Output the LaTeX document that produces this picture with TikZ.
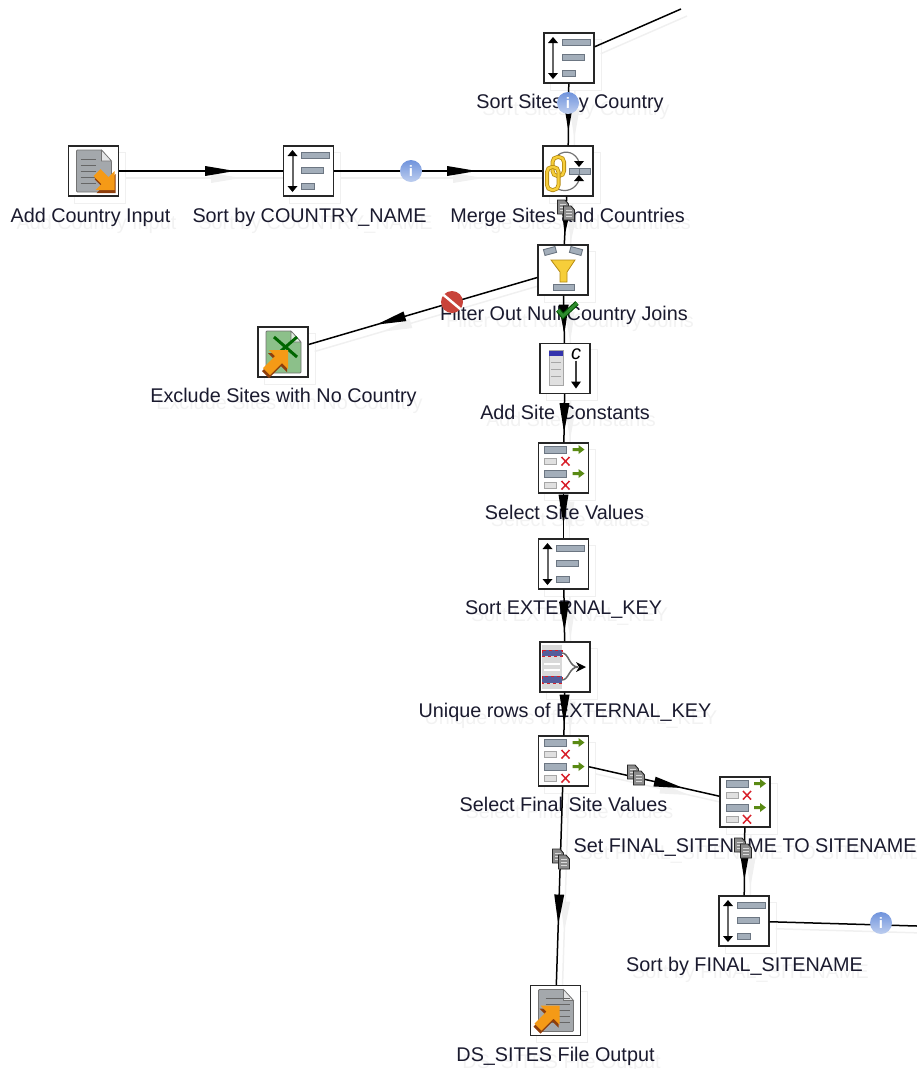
\documentclass[tikz,border=0pt]{standalone}
\usepackage{fontspec}
\setmainfont{Liberation Sans}
\usetikzlibrary{backgrounds,decorations.markings}
\definecolor{labelink}{HTML}{1A1A2E}
\definecolor{barfill}{HTML}{A3AEBA}
\definecolor{bardraw}{HTML}{6C7682}
\definecolor{infoblue}{HTML}{6F93DC}
\definecolor{stopred}{HTML}{C8433A}
\definecolor{okgreen}{HTML}{2E8B2E}
\definecolor{movegreen}{HTML}{5A8A14}
\definecolor{delred}{HTML}{D8202A}
\definecolor{goldlight}{HTML}{F6CE3A}
\definecolor{golddark}{HTML}{B58A12}
\definecolor{pagegrey}{HTML}{A4A8AC}
\definecolor{xlsgreen}{HTML}{8CC08A}
\definecolor{arroworange}{HTML}{F59A16}
\definecolor{arrowbrown}{HTML}{8E3E0C}
\colorlet{ghost}{black!6}
\tikzset{
  stepbox/.style={draw=black!85, fill=white, line width=1.3pt, minimum size=50pt, inner sep=0pt},
  steplabel/.style={text=labelink, inner sep=0pt, text height=13pt, text depth=0pt, font=\fontsize{19.8}{22}\selectfont},
  ghostlabel/.style={steplabel, text=black!5},
  ghostbox/.style={draw=ghost, line width=1pt},
  flowlink/.style={line width=1.5pt},
  flowhead/.style={postaction={decorate, decoration={markings, mark=at position #1pt with {
    \fill (-26,-5) -- (-14,-3) -- (0,-0.6) -- (0,0.6) -- (-14,3) -- (-26,5) -- cycle;}}}},
  ghostlink/.style={color=ghost, line width=1.5pt, transform canvas={shift={(6,7)}}},
  barbox/.style={fill=barfill, draw=bardraw, line width=0.9pt},
  palebox/.style={fill=black!12, draw=black!35, line width=0.8pt},
  infobadge/.style={circle, inner sep=0pt, minimum size=22pt, top color=infoblue, bottom color=infoblue!45!white, text=white, font=\bfseries\fontsize{15}{15}\selectfont},
  stopbadge/.style={circle, inner sep=0pt, minimum size=22pt, fill=stopred}
}
\newcommand{\iconsort}[1]{%
  \begin{scope}[shift={(#1)}]
    \draw[black!60, line width=2pt] (-16,-16) -- (-16,16);
    \fill (-21,-15) -- (-16,-21) -- (-11,-15) -- cycle;
    \fill (-21,15) -- (-16,21) -- (-11,15) -- cycle;
    \filldraw[barbox] (-7,-19) rectangle (21,-12.5);
    \filldraw[barbox] (-7,-4) rectangle (15,2.5);
    \filldraw[barbox] (-7,12) rectangle (6,18);
  \end{scope}}
\newcommand{\iconjoin}[1]{%
  \begin{scope}[shift={(#1)}]
    \draw[black!55, line width=1.2pt] (-10,-16) .. controls (-2,-22) and (8,-18) .. (11,-9);
    \draw[black!55, line width=1.2pt] (11,9) .. controls (8,18) and (-2,22) .. (-10,18);
    \fill (6,-10) -- (16,-10) -- (11,-4) -- cycle;
    \fill (6,10) -- (16,10) -- (11,4) -- cycle;
    \draw[golddark, line width=4pt, rounded corners=5pt] (-15.5,-14) rectangle (-4,5);
    \draw[goldlight, line width=2.4pt, rounded corners=5pt] (-15.5,-14) rectangle (-4,5);
    \draw[golddark, line width=4pt, rounded corners=5pt] (-21,-4) rectangle (-9.5,19);
    \draw[goldlight, line width=2.4pt, rounded corners=5pt] (-21,-4) rectangle (-9.5,19);
    \filldraw[barbox] (1,-3) rectangle (22,3);
    \draw[bardraw] (11.5,-3) -- (11.5,3);
  \end{scope}}
\newcommand{\iconfilter}[1]{%
  \begin{scope}[shift={(#1)}]
    \filldraw[barbox, rotate around={15:(-13,-19)}] (-19,-22) rectangle (-7,-16);
    \filldraw[barbox, rotate around={-15:(13,-19)}] (7,-22) rectangle (19,-16);
    \filldraw[fill=goldlight, draw=golddark, line width=0.8pt] (-12,-10) -- (12,-10) -- (4,2) -- (4,12) -- (-3,12) -- (-3,2) -- cycle;
    \filldraw[barbox] (-10,14) rectangle (11,20);
  \end{scope}}
\newcommand{\iconconst}[1]{%
  \begin{scope}[shift={(#1)}]
    \filldraw[palebox] (-16,-18) rectangle (-2,17);
    \fill[blue!60!black!80] (-16,-18) rectangle (-2,-13);
    \foreach \ly in {-6,1,8}{ \draw[black!35, line width=1.2pt] (-14,\ly) -- (-4,\ly); }
    \node[font=\itshape\fontsize{20}{20}\selectfont, inner sep=0pt] (#1-c) at (11,-14) {c};
    \draw[black!75, line width=1.2pt] (11,-8) -- (11,14);
    \fill (6,13) -- (16,13) -- (11,20) -- cycle;
  \end{scope}}
\newcommand{\iconselect}[1]{%
  \begin{scope}[shift={(#1)}]
    \foreach \ly in {-18.5,5.5}{
      \filldraw[barbox] (-19,\ly-3.5) rectangle (3,\ly+3.5);
      \fill[movegreen] (9,\ly-1.5) -- (15,\ly-1.5) -- (15,\ly-4.5) -- (21,\ly) -- (15,\ly+4.5) -- (15,\ly+1.5) -- (9,\ly+1.5) -- cycle;
      \filldraw[palebox] (-19,\ly+8.5) rectangle (-7,\ly+15);
      \draw[delred, line width=1.5pt] (-2,\ly+7.5) -- (6,\ly+16) (6,\ly+7.5) -- (-2,\ly+16);
    }
  \end{scope}}
\newcommand{\iconunique}[1]{%
  \begin{scope}[shift={(#1)}]
    \fill[black!15] (-23,-22) rectangle (-3,22);
    \foreach \ly in {-3,3}{ \draw[white, line width=1.5pt] (-21,\ly) -- (-5,\ly); }
    \filldraw[fill=bardraw!80!blue, draw=delred, dashed, line width=1pt] (-23,-17) rectangle (-3,-11);
    \filldraw[fill=bardraw!80!blue, draw=delred, dashed, line width=1pt] (-23,9) rectangle (-3,16);
    \draw[black!60, line width=1.5pt] (-3,-14) .. controls (4,-14) and (4,0) .. (13,0);
    \draw[black!60, line width=1.5pt] (-3,13) .. controls (4,13) and (4,0) .. (13,0);
    \fill (11,-5) -- (21,0) -- (11,5) -- (14,0) -- cycle;
  \end{scope}}
\newcommand{\iconpage}[1]{%
  \filldraw[fill=#1, draw=black!55, line width=0.8pt, rounded corners=1pt] (-17,-21) -- (8,-21) -- (18,-10) -- (18,21) -- (-17,21) -- cycle;
  \filldraw[fill=white!70!#1, draw=black!55, line width=0.6pt] (8,-21) -- (18,-10) -- (8,-10) -- cycle;}
\newcommand{\icontextin}[1]{%
  \begin{scope}[shift={(#1)}]
    \iconpage{pagegrey}
    \foreach \ly in {-12,-6,0,6,12}{ \draw[black!60, line width=0.9pt] (-13,\ly) -- (2,\ly); }
    \foreach \ax/\ay/\col in {1/3/arrowbrown,0/0/arroworange}{
      \fill[\col, shift={(\ax,\ay)}] (21,0) -- (21,19) -- (2,19) -- (8,13) -- (0,5) -- (7,-2) -- (15,6) -- cycle;
    }
  \end{scope}}
\newcommand{\iconupload}{%
  \foreach \ax/\ay/\col in {-1/3/arrowbrown,0/0/arroworange}{
    \fill[\col, shift={(\ax,\ay)}] (4,-5) -- (4,14) -- (-2,8) -- (-14,20) -- (-21,13) -- (-9,1) -- (-15,-5) -- cycle;
  }}
\newcommand{\icontextout}[1]{%
  \begin{scope}[shift={(#1)}]
    \iconpage{pagegrey}
    \foreach \ly in {-12,-6,0,6,12}{ \draw[black!60, line width=0.9pt] (-10,\ly) -- (14,\ly); }
    \iconupload
  \end{scope}}
\newcommand{\iconexcel}[1]{%
  \begin{scope}[shift={(#1)}]
    \iconpage{xlsgreen}
    \draw[green!40!black, line width=3pt] (-9,-15) -- (14,5) (14,-15) -- (-9,5);
    \begin{scope}[shift={(1,3)}]\iconupload\end{scope}
  \end{scope}}
\newcommand{\docbadge}[2]{%
  \coordinate (#1) at #2;
  \begin{scope}[shift={(#1)}]
    \foreach \dx/\dy in {-3/-3,3/3}{
      \filldraw[fill=black!45, draw=black!85, line width=0.9pt] (\dx-5.5,\dy-7) -- (\dx+2,\dy-7) -- (\dx+5.5,\dy-3) -- (\dx+5.5,\dy+7) -- (\dx-5.5,\dy+7) -- cycle;
      \draw[black!15, line width=0.6pt] (\dx-3.5,\dy-3) -- (\dx+3,\dy-3) (\dx-3.5,\dy) -- (\dx+3,\dy) (\dx-3.5,\dy+3) -- (\dx+3,\dy+3);
    }
  \end{scope}}
\begin{document}
\begin{tikzpicture}[x=1pt, y=-1pt]
  \useasboundingbox (0,0) rectangle (917,1069);
  % steps: name / centre / icon / label centre / label
  \foreach \nm/\x/\y/\icn/\lx/\ly/\lab in {
      sortsites/569/58/sort/570/102/Sort Sites by Country,
      merge/568/171/join/567.5/216/Merge Sites and Countries,
      countryin/93.5/171/textin/90.5/216/Add Country Input,
      sortcountry/308.5/171/sort/309.5/216/Sort by COUNTRY\_NAME,
      filternull/563/270/filter/564/314/Filter Out Null Country Joins,
      exclude/283/352/excel/283.5/396/Exclude Sites with No Country,
      constants/565/368.5/const/565/413/Add Site Constants,
      selectsite/563.5/468/select/564.5/513/Select Site Values,
      sortkey/563.5/564/sort/563.5/608/Sort EXTERNAL\_KEY,
      uniquekey/565/667/unique/565/711/Unique rows of EXTERNAL\_KEY,
      selectfinal/563.5/761/select/563.5/805/Select Final Site Values,
      setfinal/745/802/select/745/846/Set FINAL\_SITENAME TO SITENAME,
      sortfinal/744/921/sort/744.5/965/Sort by FINAL\_SITENAME,
      sitesout/555.5/1010.5/textout/555.5/1055/DS\_SITES File Output}{
    \draw[ghostbox] (\x-19,\y-19) rectangle (\x+32,\y+32);
    \node[ghostlabel] (\nm-ghost) at (\lx+6,\ly+7) {\lab};
    \node[stepbox] (\nm) at (\x,\y) {};
    \csname icon\icn\endcsname{\nm}
    \node[steplabel] (\nm-label) at (\lx,\ly) {\lab};
  }
  \coordinate (sitesfeed) at (681,9);
  \coordinate (finalfeed) at (917,926);
  % hops, with the distance of the arrow tip from the source box
  \foreach \from/\to/\tip in {
      countryin/sortcountry/112, sortcountry/merge/139, sortsites/merge/44,
      merge/filternull/35, filternull/exclude/164, filternull/constants/35,
      constants/selectsite/35, selectsite/sortkey/27, sortkey/uniquekey/38,
      uniquekey/selectfinal/28, selectfinal/setfinal/93, selectfinal/sitesout/134,
      setfinal/sortfinal/49}{
    \begin{pgfonlayer}{background}
      \draw[ghostlink, flowhead=\tip] (\from) -- (\to);
    \end{pgfonlayer}
    \draw[flowlink, flowhead=\tip] (\from) -- (\to);
  }
  \begin{pgfonlayer}{background}
    \draw[ghostlink] (sortsites) -- (sitesfeed);
    \draw[ghostlink] (sortfinal) -- (finalfeed);
  \end{pgfonlayer}
  \draw[flowlink] (sortsites) -- (sitesfeed);
  \draw[flowlink] (sortfinal) -- (finalfeed);
  % badges sit on top of the hops
  \node[infobadge] (infosites) at (568,103) {i};
  \node[infobadge] (infocountry) at (411,171) {i};
  \node[infobadge] (infofinal) at (881,923) {i};
  \docbadge{docmerge}{(566,210)}
  \docbadge{docset}{(636,775)}
  \docbadge{docout}{(561,859)}
  \docbadge{docfinal}{(743,848)}
  \node[stopbadge] (stopfilter) at (452,302) {};
  \draw[white, line width=2.5pt] (stopfilter.140) -- (stopfilter.320);
  \coordinate (okfilter) at (567,310);
  \draw[black!70!green, line width=5pt] ([shift={(-9,0)}]okfilter) -- ([shift={(-4,6)}]okfilter) -- ([shift={(10,-7)}]okfilter);
  \draw[okgreen, line width=3pt] ([shift={(-9,0)}]okfilter) -- ([shift={(-4,6)}]okfilter) -- ([shift={(10,-7)}]okfilter);
\end{tikzpicture}
\end{document}
